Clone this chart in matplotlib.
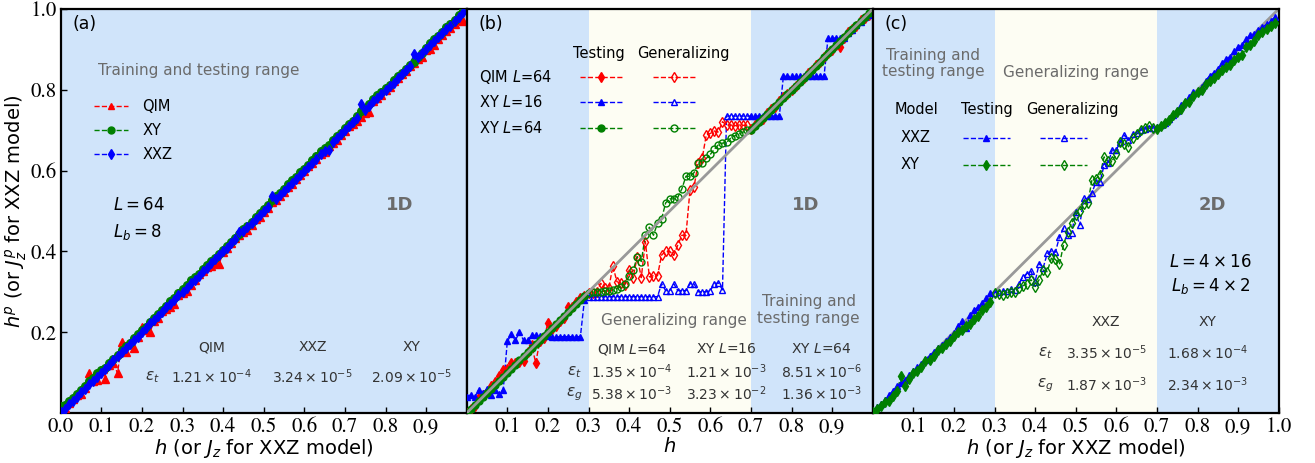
import numpy as np
import matplotlib
matplotlib.use('Agg')
import matplotlib.pyplot as plt
from matplotlib.lines import Line2D

plt.rcParams['font.family'] = 'DejaVu Sans'
plt.rcParams['mathtext.fontset'] = 'dejavusans'

# field values (h, or Jz for the XXZ chain)
h = np.round(np.arange(100) * 0.01, 2)

# (a) 1D, L=64, Lb=8 -- predictions over the whole training/testing range
a_qim = [0.005, 0.012, 0.024, 0.035, 0.045, 0.048, 0.062, 0.100, 0.078, 0.082,
         0.104, 0.084, 0.118, 0.125, 0.098, 0.176, 0.152, 0.172, 0.160, 0.188,
         0.212, 0.205, 0.200, 0.228, 0.236, 0.252, 0.258, 0.262, 0.270, 0.292,
         0.296, 0.302, 0.318, 0.330, 0.345, 0.352, 0.362, 0.365, 0.372, 0.368,
         0.398, 0.408, 0.422, 0.432, 0.440, 0.448, 0.452, 0.466, 0.480, 0.486,
         0.498, 0.508, 0.522, 0.528, 0.536, 0.548, 0.560, 0.566, 0.578, 0.590,
         0.598, 0.612, 0.618, 0.628, 0.640, 0.646, 0.660, 0.668, 0.676, 0.688,
         0.698, 0.710, 0.716, 0.722, 0.732, 0.742, 0.746, 0.772, 0.780, 0.786,
         0.800, 0.808, 0.822, 0.828, 0.840, 0.846, 0.858, 0.866, 0.876, 0.882,
         0.898, 0.902, 0.910, 0.926, 0.936, 0.945, 0.952, 0.962, 0.974, 0.970]
a_xy = [0.018, 0.020, 0.030, 0.038, 0.048, 0.058, 0.066, 0.078, 0.086, 0.098,
        0.106, 0.112, 0.125, 0.134, 0.144, 0.156, 0.165, 0.174, 0.186, 0.195,
        0.206, 0.214, 0.226, 0.236, 0.244, 0.256, 0.266, 0.276, 0.284, 0.296,
        0.306, 0.318, 0.328, 0.336, 0.344, 0.356, 0.366, 0.376, 0.384, 0.394,
        0.404, 0.414, 0.424, 0.432, 0.444, 0.456, 0.464, 0.474, 0.484, 0.494,
        0.504, 0.514, 0.526, 0.536, 0.544, 0.554, 0.566, 0.576, 0.584, 0.596,
        0.604, 0.614, 0.626, 0.636, 0.648, 0.656, 0.664, 0.676, 0.686, 0.694,
        0.706, 0.716, 0.724, 0.734, 0.748, 0.754, 0.764, 0.776, 0.786, 0.794,
        0.804, 0.812, 0.824, 0.834, 0.842, 0.852, 0.862, 0.870, 0.880, 0.892,
        0.904, 0.916, 0.926, 0.934, 0.944, 0.956, 0.964, 0.974, 0.986, 0.998]
a_xxz = [0.002, 0.010, 0.022, 0.030, 0.040, 0.052, 0.060, 0.072, 0.080, 0.090,
         0.100, 0.110, 0.120, 0.130, 0.140, 0.150, 0.160, 0.170, 0.180, 0.188,
         0.200, 0.210, 0.222, 0.230, 0.240, 0.250, 0.262, 0.270, 0.280, 0.292,
         0.300, 0.310, 0.322, 0.330, 0.340, 0.352, 0.360, 0.372, 0.380, 0.390,
         0.400, 0.408, 0.420, 0.430, 0.448, 0.450, 0.460, 0.470, 0.480, 0.490,
         0.500, 0.510, 0.538, 0.530, 0.540, 0.550, 0.560, 0.570, 0.580, 0.590,
         0.598, 0.610, 0.620, 0.628, 0.640, 0.648, 0.652, 0.670, 0.680, 0.690,
         0.700, 0.710, 0.720, 0.730, 0.766, 0.750, 0.760, 0.772, 0.780, 0.790,
         0.800, 0.810, 0.818, 0.830, 0.840, 0.850, 0.860, 0.888, 0.880, 0.890,
         0.900, 0.910, 0.920, 0.930, 0.940, 0.950, 0.958, 0.970, 0.980, 0.992]

# (b) 1D, trained outside 0.3 < h < 0.7
b_qim64 = [0.000, 0.010, 0.018, 0.040, 0.045, 0.052, 0.068, 0.076, 0.092, 0.106,
           0.108, 0.124, 0.124, 0.126, 0.128, 0.152, 0.168, 0.124, 0.178, 0.186,
           0.222, 0.208, 0.216, 0.228, 0.236, 0.262, 0.262, 0.275, 0.284, 0.290,
           0.298, 0.298, 0.300, 0.321, 0.309, 0.309, 0.364, 0.325, 0.321, 0.318,
           0.354, 0.335, 0.387, 0.335, 0.424, 0.337, 0.340, 0.340, 0.391, 0.400,
           0.400, 0.390, 0.416, 0.440, 0.440, 0.552, 0.560, 0.619, 0.630, 0.688,
           0.692, 0.698, 0.696, 0.721, 0.713, 0.713, 0.711, 0.713, 0.712, 0.712,
           0.702, 0.712, 0.722, 0.728, 0.742, 0.752, 0.758, 0.772, 0.782, 0.790,
           0.800, 0.810, 0.822, 0.830, 0.842, 0.850, 0.862, 0.868, 0.880, 0.892,
           0.898, 0.912, 0.907, 0.928, 0.942, 0.950, 0.958, 0.972, 0.978, 0.985]
b_xy16 = [0.040, 0.045, 0.040, 0.058, 0.050, 0.060, 0.045, 0.058, 0.048, 0.058,
          0.177, 0.195, 0.180, 0.200, 0.180, 0.180, 0.192, 0.192, 0.190, 0.192,
          0.190, 0.188, 0.188, 0.189, 0.189, 0.189, 0.189, 0.189, 0.189, 0.280,
          0.288, 0.288, 0.288, 0.288, 0.288, 0.288, 0.288, 0.288, 0.288, 0.288,
          0.288, 0.288, 0.288, 0.288, 0.288, 0.288, 0.288, 0.288, 0.320, 0.303,
          0.303, 0.320, 0.303, 0.303, 0.303, 0.320, 0.320, 0.300, 0.300, 0.300,
          0.303, 0.320, 0.322, 0.305, 0.735, 0.735, 0.735, 0.735, 0.735, 0.735,
          0.735, 0.735, 0.735, 0.735, 0.735, 0.735, 0.735, 0.735, 0.833, 0.833,
          0.833, 0.833, 0.833, 0.833, 0.833, 0.833, 0.833, 0.833, 0.833, 0.928,
          0.928, 0.928, 0.928, 0.928, 0.940, 0.948, 0.960, 0.968, 0.980, 0.985]
b_xy64 = [0.000, 0.010, 0.020, 0.030, 0.040, 0.050, 0.060, 0.070, 0.080, 0.090,
          0.100, 0.110, 0.120, 0.130, 0.140, 0.150, 0.160, 0.170, 0.180, 0.190,
          0.200, 0.210, 0.220, 0.230, 0.240, 0.250, 0.260, 0.270, 0.280, 0.290,
          0.296, 0.300, 0.300, 0.300, 0.302, 0.303, 0.305, 0.308, 0.312, 0.320,
          0.338, 0.353, 0.387, 0.375, 0.440, 0.460, 0.440, 0.470, 0.480, 0.520,
          0.530, 0.530, 0.534, 0.555, 0.586, 0.586, 0.595, 0.618, 0.620, 0.630,
          0.640, 0.653, 0.664, 0.668, 0.670, 0.680, 0.686, 0.690, 0.695, 0.700,
          0.700, 0.710, 0.720, 0.730, 0.740, 0.750, 0.760, 0.770, 0.780, 0.790,
          0.800, 0.810, 0.820, 0.830, 0.840, 0.850, 0.860, 0.870, 0.880, 0.890,
          0.900, 0.910, 0.920, 0.930, 0.940, 0.950, 0.960, 0.970, 0.980, 0.990]

# (c) 2D, L=4x16, Lb=4x2
c_xxz = [0.005, 0.015, 0.022, 0.032, 0.045, 0.055, 0.066, 0.075, 0.082, 0.095,
         0.103, 0.114, 0.122, 0.132, 0.142, 0.150, 0.160, 0.168, 0.178, 0.188,
         0.198, 0.215, 0.228, 0.210, 0.242, 0.255, 0.262, 0.272, 0.285, 0.296,
         0.298, 0.300, 0.303, 0.302, 0.306, 0.305, 0.320, 0.337, 0.345, 0.351,
         0.325, 0.370, 0.360, 0.395, 0.400, 0.398, 0.436, 0.457, 0.440, 0.445,
         0.498, 0.465, 0.532, 0.530, 0.545, 0.572, 0.572, 0.614, 0.620, 0.651,
         0.652, 0.670, 0.688, 0.675, 0.690, 0.692, 0.700, 0.702, 0.705, 0.705,
         0.708, 0.712, 0.718, 0.728, 0.738, 0.748, 0.762, 0.770, 0.782, 0.795,
         0.798, 0.808, 0.822, 0.835, 0.842, 0.852, 0.866, 0.876, 0.882, 0.895,
         0.906, 0.912, 0.926, 0.935, 0.938, 0.948, 0.955, 0.962, 0.970, 0.980]
c_xy = [0.002, 0.010, 0.018, 0.026, 0.030, 0.042, 0.055, 0.092, 0.068, 0.085,
        0.098, 0.104, 0.115, 0.128, 0.130, 0.142, 0.155, 0.160, 0.172, 0.178,
        0.190, 0.200, 0.205, 0.215, 0.220, 0.232, 0.240, 0.255, 0.262, 0.275,
        0.296, 0.295, 0.293, 0.298, 0.300, 0.300, 0.310, 0.315, 0.320, 0.330,
        0.313, 0.330, 0.354, 0.350, 0.383, 0.380, 0.368, 0.416, 0.449, 0.470,
        0.490, 0.500, 0.518, 0.520, 0.577, 0.580, 0.590, 0.634, 0.623, 0.625,
        0.640, 0.672, 0.665, 0.659, 0.680, 0.690, 0.700, 0.705, 0.710, 0.705,
        0.702, 0.710, 0.718, 0.725, 0.738, 0.745, 0.752, 0.768, 0.770, 0.785,
        0.795, 0.800, 0.815, 0.822, 0.830, 0.838, 0.850, 0.856, 0.862, 0.875,
        0.880, 0.885, 0.905, 0.912, 0.920, 0.935, 0.942, 0.950, 0.958, 0.965]

# errors quoted in each panel
a_models = ['QIM', 'XXZ', 'XY']
a_eps_t = [r'$1.21\times10^{-4}$', r'$3.24\times10^{-5}$', r'$2.09\times10^{-5}$']
b_models = [r'QIM $L$=64', r'XY $L$=16', r'XY $L$=64']
b_eps_t = [r'$1.35\times10^{-4}$', r'$1.21\times10^{-3}$', r'$8.51\times10^{-6}$']
b_eps_g = [r'$5.38\times10^{-3}$', r'$3.23\times10^{-2}$', r'$1.36\times10^{-3}$']
c_models = ['XXZ', 'XY']
c_eps_t = [r'$3.35\times10^{-5}$', r'$1.68\times10^{-4}$']
c_eps_g = [r'$1.87\times10^{-3}$', r'$2.34\times10^{-3}$']

BLUE_BG = '#d0e4fa'
GEN_BG = '#fdfdf3'
GREY = '0.42'
DARK = '0.2'
TICK_FONT = 'STIXGeneral'
gen_lo, gen_hi = 0.3, 0.7
MS = 5


def draw_series(ax, y, color, marker, ms=MS, split=True):
    y = np.asarray(y)
    ax.plot(h, y, ls='--', lw=1, color=color, zorder=3)
    if split:
        test = (h < gen_lo) | (h >= gen_hi)
    else:
        test = np.ones_like(h, dtype=bool)
    ax.plot(h[test], y[test], ls='none', marker=marker, ms=ms, color=color, zorder=4)
    ax.plot(h[~test], y[~test], ls='none', marker=marker, ms=ms, mfc='none',
            mec=color, mew=1, zorder=4)


def key(ax, x0, x1, y, color, marker, filled=True):
    # little "- - marker - -" sample drawn in axes fraction
    ax.plot([x0, x1], [y, y], ls='--', lw=1, color=color, transform=ax.transAxes, zorder=5)
    ax.plot([(x0 + x1) / 2], [y], marker=marker, ms=MS, color=color,
            mfc=color if filled else 'none', mew=1, transform=ax.transAxes, zorder=5)


def set_ticks(ax, ticks, axis='x'):
    labels = ['%.1f' % v for v in ticks]
    if axis == 'x':
        ax.set_xticks(ticks)
        ax.set_xticklabels(labels, fontfamily=TICK_FONT, fontsize=15)
    else:
        ax.set_yticks(ticks)
        ax.set_yticklabels(labels, fontfamily=TICK_FONT, fontsize=15)


fig = plt.figure(figsize=(13.15, 4.63), dpi=100)
W = 406 / 1315
axs = [fig.add_axes([(60.7 + i * 406) / 1315, 1 - 413 / 463, W, 404 / 463]) for i in range(3)]

for ax in axs:
    ax.set_xlim(0, 1)
    ax.set_ylim(0, 1)
    for s in ax.spines.values():
        s.set_linewidth(1.6)
    ax.tick_params(direction='in', length=4, width=1, pad=3)

# ---- (a)
ax = axs[0]
ax.set_facecolor(BLUE_BG)
draw_series(ax, a_qim, 'red', '^', ms=5.5, split=False)
draw_series(ax, a_xy, 'green', 'o', ms=5.5, split=False)
draw_series(ax, a_xxz, 'blue', 'd', ms=5.5, split=False)
handles = [Line2D([], [], ls='--', lw=1, color=c, marker=m, ms=MS)
           for c, m in zip(['red', 'green', 'blue'], ['^', 'o', 'd'])]
ax.legend(handles, ['QIM', 'XY', 'XXZ'], loc='upper left', bbox_to_anchor=(0.05, 0.81),
          frameon=False, fontsize=10.5, handlelength=2.3, labelspacing=0.62, handletextpad=1.0)
set_ticks(ax, [0.0, 0.1, 0.2, 0.3, 0.4, 0.5, 0.6, 0.7, 0.8, 0.9])
set_ticks(ax, [0.2, 0.4, 0.6, 0.8, 1.0], axis='y')
ax.set_xlabel(r'$h$ (or $J_z$ for XXZ model)', fontsize=14, labelpad=0)
ax.set_ylabel(r'$h^p$ (or $J_z^p$ for XXZ model)', fontsize=14, labelpad=1)
ax.text(0.03, 0.963, '(a)', transform=ax.transAxes, fontsize=12.5, va='center')
ax.text(0.341, 0.849, 'Training and testing range', transform=ax.transAxes,
        fontsize=11, color=GREY, ha='center', va='center')
ax.text(0.129, 0.515, r'$L=64$', transform=ax.transAxes, fontsize=12, va='center')
ax.text(0.129, 0.448, r'$L_b=8$', transform=ax.transAxes, fontsize=12, va='center')
ax.text(0.834, 0.515, '1D', transform=ax.transAxes, fontsize=13, fontweight='bold',
        color=GREY, ha='center', va='center')
for xc, name, e in zip([0.372, 0.62, 0.865], a_models, a_eps_t):
    ax.text(xc, 0.163, name, transform=ax.transAxes, fontsize=10, color=DARK, ha='center', va='center')
    ax.text(xc, 0.089, e, transform=ax.transAxes, fontsize=10, color=DARK, ha='center', va='center')
ax.text(0.225, 0.089, r'$\epsilon_t$', transform=ax.transAxes, fontsize=11, color=DARK,
        ha='center', va='center')

# ---- (b) and (c) share the shaded ranges
for ax in axs[1:]:
    ax.set_facecolor(BLUE_BG)
    ax.axvspan(gen_lo, gen_hi, color=GEN_BG, zorder=0, lw=0)
    ax.set_yticks([])

ax = axs[1]
draw_series(ax, b_qim64, 'red', 'd')
draw_series(ax, b_xy16, 'blue', '^')
draw_series(ax, b_xy64, 'green', 'o')
ax.plot([0, 1], [0, 1], color='0.6', lw=2, zorder=5)
set_ticks(ax, [0.1, 0.2, 0.3, 0.4, 0.5, 0.6, 0.7, 0.8, 0.9])
ax.set_xlabel(r'$h$', fontsize=14, labelpad=0)
ax.text(0.03, 0.963, '(b)', transform=ax.transAxes, fontsize=12.5, va='center')
ax.text(0.326, 0.891, 'Testing', transform=ax.transAxes, fontsize=10.5, ha='center', va='center')
ax.text(0.533, 0.891, 'Generalizing', transform=ax.transAxes, fontsize=10.5, ha='center', va='center')
for fy, name, c, m in zip([0.832, 0.770, 0.705], b_models, ['red', 'blue', 'green'], ['d', '^', 'o']):
    ax.text(0.03, fy, name, transform=ax.transAxes, fontsize=10.5, va='center')
    key(ax, 0.278, 0.384, fy, c, m, filled=True)
    key(ax, 0.458, 0.564, fy, c, m, filled=False)
ax.text(0.835, 0.515, '1D', transform=ax.transAxes, fontsize=13, fontweight='bold',
        color=GREY, ha='center', va='center')
ax.text(0.842, 0.255, 'Training and\ntesting range', transform=ax.transAxes, fontsize=11,
        color=GREY, ha='center', va='center', linespacing=1.1)
ax.text(0.51, 0.23, 'Generalizing range', transform=ax.transAxes, fontsize=11,
        color=GREY, ha='center', va='center')
for xc, name, et, eg in zip([0.406, 0.64, 0.874], b_models, b_eps_t, b_eps_g):
    ax.text(xc, 0.158, name, transform=ax.transAxes, fontsize=10, color=DARK, ha='center', va='center')
    ax.text(xc, 0.101, et, transform=ax.transAxes, fontsize=10, color=DARK, ha='center', va='center')
    ax.text(xc, 0.047, eg, transform=ax.transAxes, fontsize=10, color=DARK, ha='center', va='center')
ax.text(0.266, 0.101, r'$\epsilon_t$', transform=ax.transAxes, fontsize=11, color=DARK, ha='center', va='center')
ax.text(0.266, 0.047, r'$\epsilon_g$', transform=ax.transAxes, fontsize=11, color=DARK, ha='center', va='center')

# ---- (c)
ax = axs[2]
ax.plot([0, 1], [0, 1], color='0.6', lw=2, zorder=2)
draw_series(ax, c_xxz, 'blue', '^')
draw_series(ax, c_xy, 'green', 'd')
set_ticks(ax, [0.1, 0.2, 0.3, 0.4, 0.5, 0.6, 0.7, 0.8, 0.9, 1.0])
ax.set_xlabel(r'$h$ (or $J_z$ for XXZ model)', fontsize=14, labelpad=0)
ax.text(0.03, 0.963, '(c)', transform=ax.transAxes, fontsize=12.5, va='center')
ax.text(0.149, 0.866, 'Training and\ntesting range', transform=ax.transAxes, fontsize=11,
        color=GREY, ha='center', va='center', linespacing=1.1)
ax.text(0.50, 0.842, 'Generalizing range', transform=ax.transAxes, fontsize=11,
        color=GREY, ha='center', va='center')
ax.text(0.108, 0.752, 'Model', transform=ax.transAxes, fontsize=10.5, ha='center', va='center')
ax.text(0.28, 0.752, 'Testing', transform=ax.transAxes, fontsize=10.5, ha='center', va='center')
ax.text(0.491, 0.752, 'Generalizing', transform=ax.transAxes, fontsize=10.5, ha='center', va='center')
for fy, name, c, m in zip([0.681, 0.614], c_models, ['blue', 'green'], ['^', 'd']):
    ax.text(0.069, fy, name, transform=ax.transAxes, fontsize=10.5, va='center')
    key(ax, 0.222, 0.337, fy, c, m, filled=True)
    key(ax, 0.413, 0.528, fy, c, m, filled=False)
ax.text(0.836, 0.515, '2D', transform=ax.transAxes, fontsize=13, fontweight='bold',
        color=GREY, ha='center', va='center')
ax.text(0.832, 0.374, r'$L=4\times16$', transform=ax.transAxes, fontsize=12, ha='center', va='center')
ax.text(0.832, 0.314, r'$L_b=4\times2$', transform=ax.transAxes, fontsize=12, ha='center', va='center')
for xc, name, et, eg in zip([0.575, 0.825], c_models, c_eps_t, c_eps_g):
    ax.text(xc, 0.225, name, transform=ax.transAxes, fontsize=10, color=DARK, ha='center', va='center')
    ax.text(xc, 0.149, et, transform=ax.transAxes, fontsize=10, color=DARK, ha='center', va='center')
    ax.text(xc, 0.07, eg, transform=ax.transAxes, fontsize=10, color=DARK, ha='center', va='center')
ax.text(0.425, 0.149, r'$\epsilon_t$', transform=ax.transAxes, fontsize=11, color=DARK, ha='center', va='center')
ax.text(0.425, 0.07, r'$\epsilon_g$', transform=ax.transAxes, fontsize=11, color=DARK, ha='center', va='center')

fig.savefig('out.png', dpi=100)
